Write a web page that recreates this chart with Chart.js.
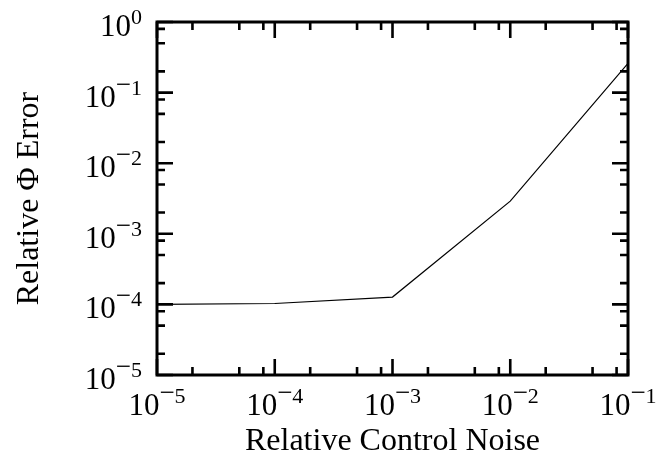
<!DOCTYPE html>
<html>
<head>
<meta charset="utf-8">
<script src="https://cdn.jsdelivr.net/npm/chart.js@4/dist/chart.umd.min.js"></script>
<style>
  html, body { margin: 0; padding: 0; background: #fff; }
  #wrap { width: 660px; height: 462px; }
</style>
</head>
<body>
<div id="wrap"><canvas id="c" width="660" height="462"></canvas></div>
<script>
// ---- data ----
const controlNoise = [1e-5, 1e-4, 1e-3, 1e-2, 1e-1];
const phiError = [1.0e-4, 1.03e-4, 1.27e-4, 2.9e-3, 0.26];
const xTickExponents = [-5, -4, -3, -2, -1];
const yTickExponents = [-5, -4, -3, -2, -1, 0];
const minorMultipliers = [2, 5, 8];
const xTitle = 'Relative Control Noise';
const yTitle = 'Relative \u03A6 Error';

const FONT = "'Liberation Serif', 'Times New Roman', serif";

const framePlugin = {
  id: 'frameTicks',
  afterDatasetsDraw(chart) {
    const ctx = chart.ctx;
    const xs = chart.scales.x, ys = chart.scales.y;
    const a = chart.chartArea;
    ctx.save();
    ctx.strokeStyle = '#000';
    ctx.lineWidth = 2.6;
    ctx.lineCap = 'butt';
    const majorLen = 16, minorLen = 8;
    function tickX(v, len) {
      const px = xs.getPixelForValue(v);
      ctx.beginPath();
      ctx.moveTo(px, a.bottom); ctx.lineTo(px, a.bottom - len);
      ctx.moveTo(px, a.top); ctx.lineTo(px, a.top + len);
      ctx.stroke();
    }
    function tickY(v, len) {
      const py = ys.getPixelForValue(v);
      ctx.beginPath();
      ctx.moveTo(a.left, py); ctx.lineTo(a.left + len, py);
      ctx.moveTo(a.right, py); ctx.lineTo(a.right - len, py);
      ctx.stroke();
    }
    xTickExponents.forEach((e, i) => {
      tickX(Math.pow(10, e), majorLen);
      if (i < xTickExponents.length - 1) minorMultipliers.forEach(m => tickX(m * Math.pow(10, e), minorLen));
    });
    yTickExponents.forEach((e, i) => {
      tickY(Math.pow(10, e), majorLen);
      if (i < yTickExponents.length - 1) minorMultipliers.forEach(m => tickY(m * Math.pow(10, e), minorLen));
    });
    ctx.lineWidth = 3;
    ctx.strokeRect(a.left, a.top, a.right - a.left, a.bottom - a.top);

    // tick labels: "10" with superscript exponent
    ctx.fillStyle = '#000';
    ctx.textBaseline = 'alphabetic';
    ctx.textAlign = 'left';
    const baseFont = '31px ' + FONT, supFont = '22px ' + FONT, minusFont = '27px ' + FONT;
    function parts(e) {
      ctx.font = baseFont; const w1 = ctx.measureText('10').width;
      let wm = 0;
      if (e < 0) { ctx.font = minusFont; wm = ctx.measureText('\u2212').width; }
      ctx.font = supFont; const wd = ctx.measureText(String(Math.abs(e))).width;
      return { w1, wm, wd, total: w1 + wm + wd };
    }
    function drawLabel(e, left, base) {
      const m = parts(e);
      ctx.font = baseFont; ctx.fillText('10', left, base);
      let x = left + m.w1;
      if (e < 0) { ctx.font = minusFont; ctx.fillText('\u2212', x, base - 14); x += m.wm; }
      ctx.font = supFont; ctx.fillText(String(Math.abs(e)), x, base - 12);
    }
    xTickExponents.forEach(e => {
      const px = xs.getPixelForValue(Math.pow(10, e));
      const m = parts(e);
      drawLabel(e, px - m.total / 2, a.bottom + 40);
    });
    yTickExponents.forEach(e => {
      const py = ys.getPixelForValue(Math.pow(10, e));
      const m = parts(e);
      drawLabel(e, a.left - 15 - m.total, py + 14);
    });

    // axis titles
    ctx.font = '32px ' + FONT;
    ctx.textAlign = 'center';
    ctx.fillText(xTitle, (a.left + a.right) / 2, a.bottom + 75);
    ctx.save();
    ctx.translate(38, (a.top + a.bottom) / 2);
    ctx.rotate(-Math.PI / 2);
    ctx.fillText(yTitle, 0, 0);
    ctx.restore();
    ctx.restore();
  }
};

new Chart(document.getElementById('c'), {
  type: 'line',
  data: {
    labels: controlNoise,
    datasets: [{
      data: controlNoise.map((x, i) => ({ x: x, y: phiError[i] })),
      borderColor: '#000',
      borderWidth: 1.2,
      pointRadius: 0,
      tension: 0,
      fill: false
    }]
  },
  options: {
    responsive: false,
    animation: false,
    devicePixelRatio: 1,
    layout: { padding: { left: 157, right: 32, top: 22, bottom: 87 } },
    plugins: { legend: { display: false }, tooltip: { enabled: false } },
    scales: {
      x: { type: 'logarithmic', min: 1e-5, max: 1e-1, display: false },
      y: { type: 'logarithmic', min: 1e-5, max: 1, display: false }
    }
  },
  plugins: [framePlugin]
});
</script>
</body>
</html>
